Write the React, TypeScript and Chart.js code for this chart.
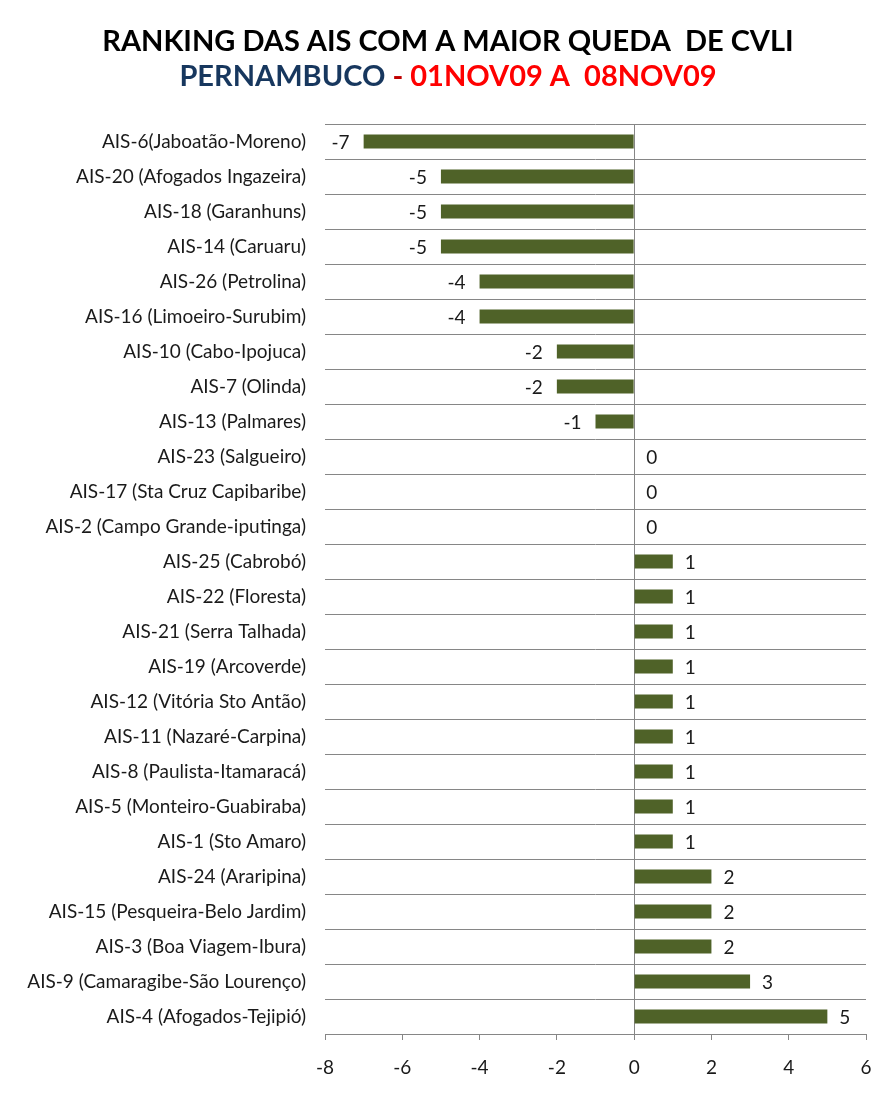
import { useEffect, useRef } from "react";
import { Chart, registerables } from "chart.js";
Chart.register(...registerables);

const categories = [
  "AIS-6(Jaboatão-Moreno)",
  "AIS-20 (Afogados Ingazeira)",
  "AIS-18 (Garanhuns)",
  "AIS-14 (Caruaru)",
  "AIS-26 (Petrolina)",
  "AIS-16 (Limoeiro-Surubim)",
  "AIS-10 (Cabo-Ipojuca)",
  "AIS-7 (Olinda)",
  "AIS-13 (Palmares)",
  "AIS-23 (Salgueiro)",
  "AIS-17 (Sta Cruz Capibaribe)",
  "AIS-2 (Campo Grande-iputinga)",
  "AIS-25 (Cabrobó)",
  "AIS-22 (Floresta)",
  "AIS-21 (Serra Talhada)",
  "AIS-19 (Arcoverde)",
  "AIS-12 (Vitória Sto Antão)",
  "AIS-11 (Nazaré-Carpina)",
  "AIS-8 (Paulista-Itamaracá)",
  "AIS-5 (Monteiro-Guabiraba)",
  "AIS-1 (Sto Amaro)",
  "AIS-24 (Araripina)",
  "AIS-15 (Pesqueira-Belo Jardim)",
  "AIS-3 (Boa Viagem-Ibura)",
  "AIS-9 (Camaragibe-São Lourenço)",
  "AIS-4 (Afogados-Tejipió)",
];

const values = [-7, -5, -5, -5, -4, -4, -2, -2, -1, 0, 0, 0, 1, 1, 1, 1, 1, 1, 1, 1, 1, 2, 2, 2, 3, 5];

const xMin = -8;
const xMax = 6;
const xStep = 2;

const titleLine1 = "RANKING DAS AIS COM A MAIOR QUEDA  DE CVLI";
const titleLine2: [string, string][] = [
  ["PERNAMBUCO", "#17375E"],
  [" - ", "#C00000"],
  ["01NOV09 A  08NOV09", "#FF0000"],
];

const FONT = "Lato, 'Open Sans', sans-serif";
const GRID = "#868686";
const BAR = "#4F6228";
const TXT = "#1a1a1a";

const titlePlugin = {
  id: "multiTitle",
  afterDraw(chart: any) {
    const ctx = chart.ctx;
    const cx = chart.width / 2;
    ctx.save();
    ctx.textBaseline = "middle";
    ctx.font = `bold 29px ${FONT}`;
    ctx.fillStyle = "#000000";
    ctx.textAlign = "center";
    ctx.fillText(titleLine1, cx, 42);
    ctx.textAlign = "left";
    const total = titleLine2.reduce((s, p) => s + ctx.measureText(p[0]).width, 0);
    let x = cx - total / 2;
    for (const [t, c] of titleLine2) {
      ctx.fillStyle = c;
      ctx.fillText(t, x, 77);
      x += ctx.measureText(t).width;
    }
    ctx.restore();
  },
};

const labelPlugin = {
  id: "barValues",
  afterDatasetsDraw(chart: any) {
    const ctx = chart.ctx;
    const meta = chart.getDatasetMeta(0);
    ctx.save();
    ctx.font = `19px ${FONT}`;
    ctx.fillStyle = TXT;
    ctx.textBaseline = "middle";
    meta.data.forEach((el: any, i: number) => {
      const v = values[i];
      if (v < 0) {
        ctx.textAlign = "right";
        ctx.fillText(String(v), el.x - 14, el.y + 1);
      } else {
        ctx.textAlign = "left";
        ctx.fillText(String(v), el.x + 12, el.y + 1);
      }
    });
    ctx.restore();
  },
};

export default function App() {
  const ref = useRef<HTMLCanvasElement>(null);
  useEffect(() => {
    if (!ref.current) return;
    const chart = new Chart(ref.current, {
      type: "bar",
      data: {
        labels: categories,
        datasets: [
          {
            data: values,
            backgroundColor: BAR,
            borderWidth: 0,
            barPercentage: 0.4,
            categoryPercentage: 1,
          },
        ],
      },
      options: {
        indexAxis: "y",
        animation: false,
        responsive: false,
        devicePixelRatio: 1,
        layout: { padding: { top: 124, right: 30, bottom: 0, left: 0 } },
        plugins: {
          legend: { display: false },
          title: { display: false },
          tooltip: { enabled: false },
        },
        scales: {
          x: {
            min: xMin,
            max: xMax,
            ticks: {
              stepSize: xStep,
              color: TXT,
              font: { family: FONT, size: 19 },
              padding: 16,
              maxRotation: 0,
            },
            grid: {
              color: (c: any) => (c.tick && c.tick.value === 0 ? GRID : "rgba(0,0,0,0)"),
              tickColor: GRID,
              tickLength: 6,
              drawTicks: true,
            },
            border: { display: true, color: GRID },
            afterFit: (s: any) => {
              s.height = 70;
            },
          },
          y: {
            ticks: {
              color: TXT,
              font: { family: FONT, size: 19 },
              padding: 19,
              autoSkip: false,
            },
            grid: {
              offset: true,
              color: GRID,
              drawTicks: false,
            },
            border: { display: false },
            afterFit: (s: any) => {
              s.width = 325;
            },
          },
        },
      },
      plugins: [titlePlugin, labelPlugin],
    });
    return () => chart.destroy();
  }, []);
  return (
    <div style={{ position: "absolute", left: 0, top: 0, width: 896, height: 1104 }}>
      <canvas ref={ref} width={896} height={1104} style={{ display: "block" }} />
    </div>
  );
}
